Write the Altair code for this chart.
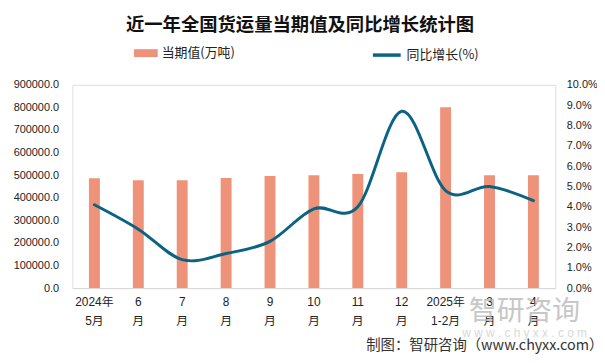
import altair as alt
import pandas as pd

months = ["2024年5月", "6月", "7月", "8月", "9月", "10月", "11月", "12月", "2025年1-2月", "3月", "4月"]
volume = [486000, 478000, 478000, 487000, 496000, 500000, 505000, 513000, 801000, 500000, 500000]
growth = [4.1, 2.9, 1.4, 1.7, 2.3, 3.9, 4.0, 8.7, 4.8, 5.0, 4.3]

left_ticks = [0, 100000, 200000, 300000, 400000, 500000, 600000, 700000, 800000, 900000]
right_ticks = [0, 1, 2, 3, 4, 5, 6, 7, 8, 9, 10]

bar_name = "当期值(万吨)"
line_name = "同比增长(%)"
title_text = "近一年全国货运量当期值及同比增长统计图"
source_text = "制图：智研咨询（www.chyxx.com）"

df = pd.DataFrame({"month": months, "volume": volume, "growth": growth,
                   "s1": bar_name, "s2": line_name})

BAR = "#EE927A"
LINE = "#0B6282"
NUM_FONT = "Liberation Sans, Noto Sans CJK SC, sans-serif"
CJK_FONT = "Noto Sans CJK SC, sans-serif"

label_expr = ("indexof(datum.value,'年')>=0 ? "
              "[slice(datum.value,0,indexof(datum.value,'年')+1), slice(datum.value,indexof(datum.value,'年')+1)] : "
              "[slice(datum.value,0,-1), '月']")

x_enc = alt.X("month:N", sort=months,
              scale=alt.Scale(domain=months, paddingInner=0, paddingOuter=0),
              axis=alt.Axis(title=source_text, labelExpr=label_expr, labelAngle=0,
                            ticks=False, domainColor="#D9D9D9", domainWidth=1,
                            labelFont=NUM_FONT, labelFontSize=12, labelColor="#222222",
                            labelPadding=9, labelLineHeight=19,
                            titleFont=CJK_FONT, titleFontSize=14.5, titleFontWeight="normal",
                            titleColor="#333333", titleAnchor="end", titleAlign="right",
                            titleBaseline="middle", titleX=535, titleY=58))

rect_path = "M-1,-0.33L1,-0.33L1,0.33L-1,0.33Z"

bars = alt.Chart(df).mark_bar(size=11).encode(
    x=x_enc,
    y=alt.Y("volume:Q", scale=alt.Scale(domain=[0, 900000], nice=False),
            axis=alt.Axis(title=None, values=left_ticks, format=".1f", domain=False,
                          ticks=False, grid=False, labelPadding=14,
                          labelFont=NUM_FONT, labelFontSize=11, labelColor="#222222")),
    fill=alt.Fill("s1:N", scale=alt.Scale(domain=[bar_name], range=[BAR]),
                  legend=alt.Legend(title=None, orient="none", legendX=62, legendY=-44,
                                    symbolType=rect_path, symbolSize=576,
                                    symbolStrokeWidth=0, labelFont=CJK_FONT,
                                    labelFontSize=13, labelColor="#222222", labelOffset=4)),
)

line = alt.Chart(df).mark_line(interpolate="cardinal", strokeWidth=3, strokeCap="round").encode(
    x=alt.X("month:N", sort=months),
    y=alt.Y("growth:Q", scale=alt.Scale(domain=[0, 10], nice=False),
            axis=alt.Axis(title=None, orient="right", values=right_ticks,
                          labelExpr="format(datum.value,'.1f')+'%'", domain=False,
                          ticks=False, grid=False, labelPadding=11,
                          labelFont=NUM_FONT, labelFontSize=11, labelColor="#222222")),
    stroke=alt.Stroke("s2:N", scale=alt.Scale(domain=[line_name], range=[LINE]),
                      legend=alt.Legend(title=None, orient="none", legendX=301, legendY=-46,
                                        symbolType="stroke", symbolSize=784,
                                        symbolStrokeWidth=3.5, labelFont=CJK_FONT,
                                        labelFontSize=13, labelColor="#222222", labelOffset=4)),
)

wm1 = alt.Chart(pd.DataFrame({"t": ["智研咨询"]})).mark_text(
    font=CJK_FONT, fontSize=28, color="#B5B5B5", opacity=0.75, align="center", baseline="middle"
).encode(x=alt.value(456), y=alt.value(229), text="t:N")
wm2 = alt.Chart(pd.DataFrame({"t": ["w w w . c h y x x . c o m"]})).mark_text(
    font=NUM_FONT, fontSize=12, color="#CFCFCF", opacity=0.8, align="center", baseline="middle"
).encode(x=alt.value(456), y=alt.value(250), text="t:N")

chart = alt.layer(bars, line, wm1, wm2).resolve_scale(
    y="independent", fill="independent", stroke="independent"
).properties(
    width=487, height=205,
    autosize=alt.AutoSizeParams(type="none"),
    padding={"left": 65, "top": 76, "right": 42, "bottom": 70},
    title=alt.TitleParams(title_text, font=CJK_FONT, fontSize=18.5, fontWeight="bold",
                          color="#111111", anchor="middle", frame="group", dx=-14, offset=5),
).configure_view(stroke=None).configure(background="white")

chart.save("out.html", embed_options={"renderer": "svg", "actions": False})
